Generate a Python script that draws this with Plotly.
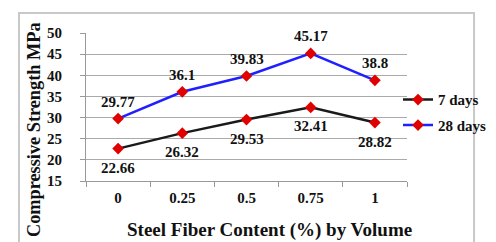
import plotly.graph_objects as go

categories = ["0", "0.25", "0.5", "0.75", "1"]
days7 = [22.66, 26.32, 29.53, 32.41, 28.82]
days28 = [29.77, 36.1, 39.83, 45.17, 38.8]
yticks = [15, 20, 25, 30, 35, 40, 45, 50]

FONT = "Liberation Serif"
INK = "#111111"
lab_font = dict(family=FONT, size=15, color=INK, weight="bold")

fig = go.Figure()
fig.add_trace(go.Scatter(
    x=categories, y=days7, name="7 days", mode="lines+markers",
    legendgroup="a",
    line=dict(color="#1a1a1a", width=2.5),
    marker=dict(symbol="diamond", size=9, color="#e00000"),
))
fig.add_trace(go.Scatter(
    x=categories, y=days28, name="28 days", mode="lines+markers",
    legendgroup="b",
    line=dict(color="#2020ff", width=2.5),
    marker=dict(symbol="diamond", size=9, color="#e00000"),
))

annotations = []
for i, v in enumerate(days7):
    annotations.append(dict(x=i, y=v, xref="x", yref="y", text=str(v), showarrow=False,
                            yshift=-19, font=lab_font))
for i, v in enumerate(days28):
    annotations.append(dict(x=i, y=v, xref="x", yref="y", text=str(v), showarrow=False,
                            yshift=17, font=lab_font))
annotations.append(dict(x=0.571, y=-0.331, xref="paper", yref="paper",
                        text="Steel Fiber Content (%) by Volume", showarrow=False,
                        xanchor="center", yanchor="middle",
                        font=dict(family=FONT, size=19, color=INK, weight="bold")))
annotations.append(dict(x=-0.162, y=0.351, xref="paper", yref="paper",
                        text="Compressive Strength MPa", showarrow=False, textangle=-90,
                        xanchor="center", yanchor="middle",
                        font=dict(family=FONT, size=18.3, color=INK, weight="bold")))

fig.update_layout(
    width=496, height=242,
    margin=dict(l=78, r=78, t=25, b=69),
    paper_bgcolor="white", plot_bgcolor="white",
    font=dict(family=FONT, color=INK),
    showlegend=True,
    legend=dict(x=0.972, y=0.66, xanchor="left", yanchor="top",
                font=dict(family=FONT, size=15, color=INK, weight="bold"),
                bgcolor="rgba(0,0,0,0)", traceorder="grouped", tracegroupgap=3,
                itemwidth=30),
    xaxis=dict(
        type="category", range=[-0.5, 4.5],
        tickfont=dict(family=FONT, size=15, color=INK, weight="bold"),
        showline=True, linecolor="#999999", linewidth=1,
        ticks="outside", tickson="boundaries", ticklen=5, tickcolor="#999999",
        ticklabelstandoff=3,
        showgrid=False,
    ),
    yaxis=dict(
        range=[15, 50], tickvals=yticks,
        tickfont=dict(family=FONT, size=15, color=INK, weight="bold"),
        showline=True, linecolor="#999999", linewidth=1,
        ticks="outside", ticklen=5, tickcolor="#999999",
        ticklabelstandoff=15,
        showgrid=True, gridcolor="#aaaaaa", gridwidth=1,
        zeroline=False,
    ),
    annotations=annotations,
    shapes=[dict(type="rect", xref="paper", yref="paper",
                 x0=-0.2088, x1=1.2088, y0=-0.432, y1=1.135,
                 line=dict(color="#c8c8c8", width=2))],
)

fig.write_html("out.html")
